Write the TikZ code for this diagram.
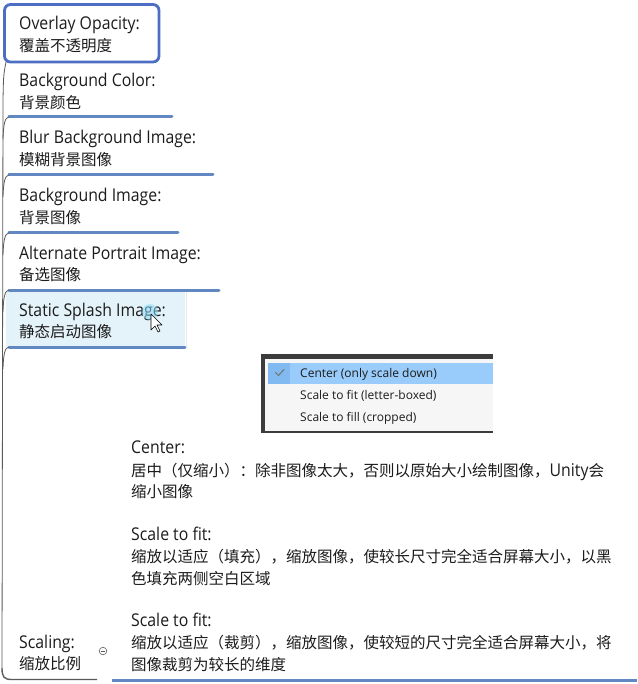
\documentclass[tikz,border=0pt]{standalone}
\usepackage{fontspec}
\setmainfont{Open Sans}
\newfontfamily\latf[FakeStretch=0.9]{Open Sans}
\newfontfamily\cjk{Noto Sans CJK SC}
\definecolor{ulblue}{RGB}{98,136,196}
\definecolor{boxblue}{RGB}{78,110,196}
\definecolor{txt}{RGB}{28,28,28}
\definecolor{spine}{RGB}{90,90,90}
\definecolor{selfill}{RGB}{228,243,250}
\definecolor{menuframe}{RGB}{60,60,60}
\definecolor{menubg}{RGB}{246,246,246}
\definecolor{menuhl}{RGB}{153,204,250}
\definecolor{menuchk}{RGB}{128,186,240}
\tikzset{
  lat/.style={anchor=base west, inner sep=0pt, text=txt, font=\latf\fontsize{17.6}{20}\selectfont},
  zh/.style={anchor=base west, inner sep=0pt, text=txt, font=\cjk\fontsize{15.5}{20}\selectfont},
  menutxt/.style={anchor=base west, inner sep=0pt, text=txt, font=\fontsize{12}{14}\selectfont},
  uline/.style={draw=ulblue, line width=3pt, line cap=round},
  branch/.style={draw=spine, line width=0.8pt},
}
\begin{document}
\begin{tikzpicture}[x=1pt,y=-1pt]
\useasboundingbox[fill=white] (0,0) rectangle (637,684);

% spine
\draw[branch] (6,62) .. controls (3.5,75) .. (3,100) -- (2,668);
\draw[spine, line width=1.4pt] (2,668) .. controls (2,677) and (4,679.5) .. (12,679.5) -- (97,679.5);

% selected first topic
\draw[boxblue, line width=2.8pt, rounded corners=6pt] (4.5,4.5) rectangle (159,62);
\node[lat] (t1) at (19,30) {Overlay Opacity:};
\node[zh] (c1) at (19,51.5) {覆盖不透明度};

% static splash highlight
\fill[selfill] (6,291) rectangle (185,347);
\draw[black!8, line width=1pt] (186,292) -- (186,347);

% underlines with curved left ends
\foreach \y/\xe in {117/172,175/213,233/178,290/219,347/185}{
  \draw[uline] (9,\y) -- (\xe,\y);
  \draw[branch] (9,\y) .. controls (5,\y+0.5) and (3.5,\y+6) .. (3,\y+22);
}

\node[lat] (t2) at (19,87) {Background Color:};
\node[zh] (c2) at (19,108.5) {背景颜色};
\node[lat] (t3) at (19,144) {Blur Background Image:};
\node[zh] (c3) at (19,165.5) {模糊背景图像};
\node[lat] (t4) at (19,202) {Background Image:};
\node[zh] (c4) at (19,223.5) {背景图像};
\node[lat] (t5) at (19,259) {Alternate Portrait Image:};
\node[zh] (c5) at (19,280.5) {备选图像};
\node[lat] (t6) at (19,316) {Static Splash Image:};
\node[zh] (c6) at (19,337.5) {静态启动图像};

% cursor
\fill[cyan!45, opacity=0.55] (150,312) circle (8);
\draw[black, fill=white, line width=0.6pt, line join=round]
  (151,314) -- (151,330) -- (155,326) -- (158,332) -- (160,331) -- (157,325) -- (162,325) -- cycle;

% popup menu
\fill[menuframe] (261,354) rectangle (493,433);
\fill[menubg] (265,359) rectangle (493,430.5);
\fill[menuhl] (268,362.5) rectangle (493,384);
\fill[menuchk] (268,362.5) rectangle (290,384);
\draw[black!55, line width=1pt, line cap=round, line join=round] (275.5,372.5) -- (278.5,375.5) -- (284,369.5);
\node[menutxt] (m1) at (300,377.5) {Center (only scale down)};
\node[menutxt] (m2) at (300,399.5) {Scale to fit (letter-boxed)};
\node[menutxt] (m3) at (300,421.5) {Scale to fill (cropped)};

% scaling topic
\node[lat] (t7) at (19,648) {Scaling:};
\node[zh] (c7) at (19,669.5) {缩放比例};
\draw[spine, line width=0.6pt] (103,651) circle (3.8);
\draw[spine, line width=0.6pt] (100.8,651) -- (105.2,651);
\draw[uline, line cap=butt] (112,680) -- (637,680);

% subtopic text
\node[lat] (s1) at (131,453) {Center:};
\node[zh] (s2) at (131,476) {居中（仅缩小）：除非图像太大，否则以原始大小绘制图像，{\latf\fontsize{17.6}{20}\selectfont Unity}会};
\node[zh] (s3) at (131,497.5) {缩小图像};
\node[lat] (s4) at (131,540) {Scale to fit:};
\node[zh] (s5) at (131,562.5) {缩放以适应（填充），缩放图像，使较长尺寸完全适合屏幕大小，以黑};
\node[zh] (s6) at (131,584) {色填充两侧空白区域};
\node[lat] (s7) at (131,626) {Scale to fit:};
\node[zh] (s8) at (131,648.5) {缩放以适应（裁剪），缩放图像，使较短的尺寸完全适合屏幕大小，将};
\node[zh] (s9) at (131,670) {图像裁剪为较长的维度};
\end{tikzpicture}
\end{document}
